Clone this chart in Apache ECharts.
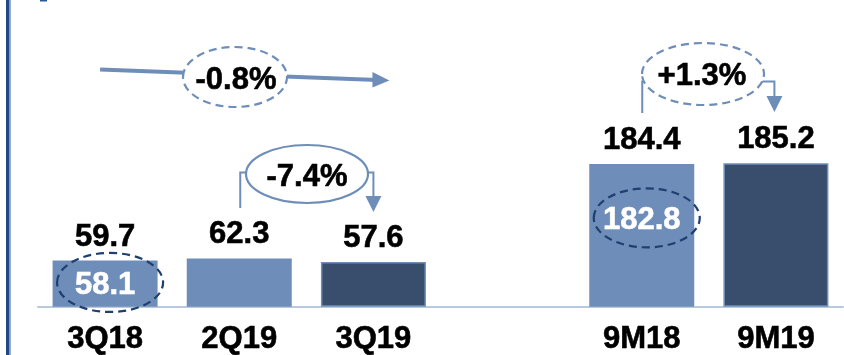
<!DOCTYPE html>
<html>
<head>
<meta charset="utf-8">
<script src="https://cdn.jsdelivr.net/npm/echarts@6/dist/echarts.min.js"></script>
<style>
  html, body { margin: 0; padding: 0; background: #fff; }
  #chart { width: 844px; height: 355px; }
</style>
</head>
<body>
<div id="chart"></div>
<script>
// Periods on the x axis; the empty slot separates quarters from nine-month totals
const categories = ['3Q18', '2Q19', '3Q19', '', '9M18', '9M19'];
// Reported values
const values = [59.7, 62.3, 57.6, null, 184.4, 185.2];
// Restated comparatives shown inside the bars
const restated = [58.1, null, null, null, 182.8, null];
// Bar shade: 'light' for comparison periods, 'dark' for the current period
const shades = ['light', 'light', 'dark', null, 'light', 'dark'];
// Change labels
const changeLabels = ['-0.8%', '-7.4%', '+1.3%'];

const LIGHT = '#6e8eb9';
const DARK = '#394d6d';
const NAVY = '#1f3f6f';
const FONT = '"Liberation Sans", Arial, sans-serif';
const FS = 31;

const chart = echarts.init(document.getElementById('chart'));

chart.setOption({
  animation: false,
  grid: { left: 38, right: 1, top: 0, bottom: 47 },
  xAxis: {
    type: 'category',
    data: categories,
    axisLine: { lineStyle: { color: '#b9c9de', width: 2 } },
    axisTick: { show: false },
    axisLabel: {
      color: '#000', fontSize: FS, fontWeight: 'bold', fontFamily: FONT, margin: 17,
      interval: 0, textBorderColor: '#000', textBorderWidth: 0.6
    }
  },
  yAxis: { type: 'value', min: 0, max: 396, show: false, splitLine: { show: false } },
  series: [{
    type: 'bar',
    barWidth: 105,
    data: values.map((v, i) => v == null ? '-' : {
      value: v,
      itemStyle: shades[i] === 'dark'
        ? { color: DARK, borderColor: LIGHT, borderWidth: 1.5 }
        : { color: LIGHT }
    }),
    label: {
      show: true, position: 'top', distance: 8,
      color: '#000', fontSize: FS, fontWeight: 'bold', fontFamily: FONT,
      textBorderColor: '#000', textBorderWidth: 0.6,
      formatter: p => p.value.toFixed(1)
    }
  }]
});

const px = (i, v) => chart.convertToPixel({ xAxisIndex: 0, yAxisIndex: 0 }, [i, v]);
const cx = i => px(i, 0)[0];

function text(str, x, y, color) {
  const c = color || '#000';
  return {
    type: 'text', z: 20,
    style: {
      text: str, x: x, y: y, fill: c, stroke: c, lineWidth: 0.6,
      font: 'bold ' + FS + 'px ' + FONT,
      align: 'center', verticalAlign: 'middle',
      textAlign: 'center', textVerticalAlign: 'middle'
    }
  };
}
function ellipse(x, y, rx, ry, stroke, dashed, fill) {
  return {
    type: 'ellipse', z: 15,
    shape: { cx: x, cy: y, rx: rx, ry: ry },
    style: {
      fill: fill === undefined ? '#fff' : fill, stroke: stroke, lineWidth: 2.2,
      lineDash: dashed ? [8, 5] : null
    }
  };
}
function polyline(points, width) {
  return { type: 'polyline', z: 10, shape: { points: points },
    style: { stroke: LIGHT, lineWidth: width, fill: null } };
}
function arrowDown(x, yTip) {
  return { type: 'polygon', z: 11,
    shape: { points: [[x - 8, yTip - 16], [x + 8, yTip - 16], [x, yTip]] },
    style: { fill: LIGHT } };
}

const elements = [];

// Left frame rule
elements.push({ type: 'rect', shape: { x: 6, y: 0, width: 3.5, height: 355 }, style: { fill: '#1f4a86' } });
elements.push({ type: 'rect', shape: { x: 9.5, y: 0, width: 1.2, height: 355 }, style: { fill: '#6f8fbb' } });
elements.push({ type: 'rect', shape: { x: 40, y: 0, width: 7, height: 1.5 }, style: { fill: '#2a5896' } });

// Restated values inside the bars, ringed with a dashed outline
restated.forEach((v, i) => {
  if (v == null) return;
  const top = px(i, values[i])[1];
  const x = cx(i);
  const y = i < 3 ? top + 25 : top + 57;
  elements.push(ellipse(x + 5, y - 3, 53, 29.5, NAVY, true, null));
  elements.push(text(v.toFixed(1), x, y, '#fff'));
});

// 3Q18 -> 3Q19 change: straight arrow across the quarters
(function () {
  const x0 = cx(0) - 5, x1 = cx(2) + 16;
  const y0 = 69.5, y1 = 80.5;
  elements.push(polyline([[x0, y0], [x1 - 12, y1 - 0.5]], 4));
  elements.push({ type: 'polygon', z: 11,
    shape: { points: [[x1 - 17, y1 - 8.5], [x1, y1], [x1 - 17, y1 + 7]] },
    style: { fill: LIGHT } });
  elements.push(ellipse(235, 77, 52, 30, LIGHT, true));
  elements.push(text(changeLabels[0], 236, 80));
})();

// 2Q19 -> 3Q19 change: bracket arrow
(function () {
  const xa = cx(1) + 1, xb = cx(2);
  const yTop = 172.5;
  elements.push(polyline([[xa, 208], [xa, yTop], [xa + 10, yTop]], 2));
  elements.push(polyline([[xb - 10, yTop], [xb, yTop], [xb, 198]], 2));
  elements.push(arrowDown(xb, 212));
  elements.push(ellipse(307, 174, 61, 29, LIGHT, false));
  elements.push(text(changeLabels[1], 307, 177));
})();

// 9M18 -> 9M19 change: bracket arrow
(function () {
  const xa = cx(4) + 0.5, xb = cx(5) - 1.5;
  const yTop = 81.5;
  elements.push(polyline([[xa, 113], [xa, yTop], [xa + 10, yTop]], 2));
  elements.push(polyline([[xb - 14, yTop], [xb, yTop], [xb, 98]], 2));
  elements.push(arrowDown(xb, 112));
  elements.push(ellipse(703, 74, 61, 31, LIGHT, true));
  elements.push(text(changeLabels[2], 702, 76));
})();

chart.setOption({ graphic: { elements: elements } });
</script>
</body>
</html>
